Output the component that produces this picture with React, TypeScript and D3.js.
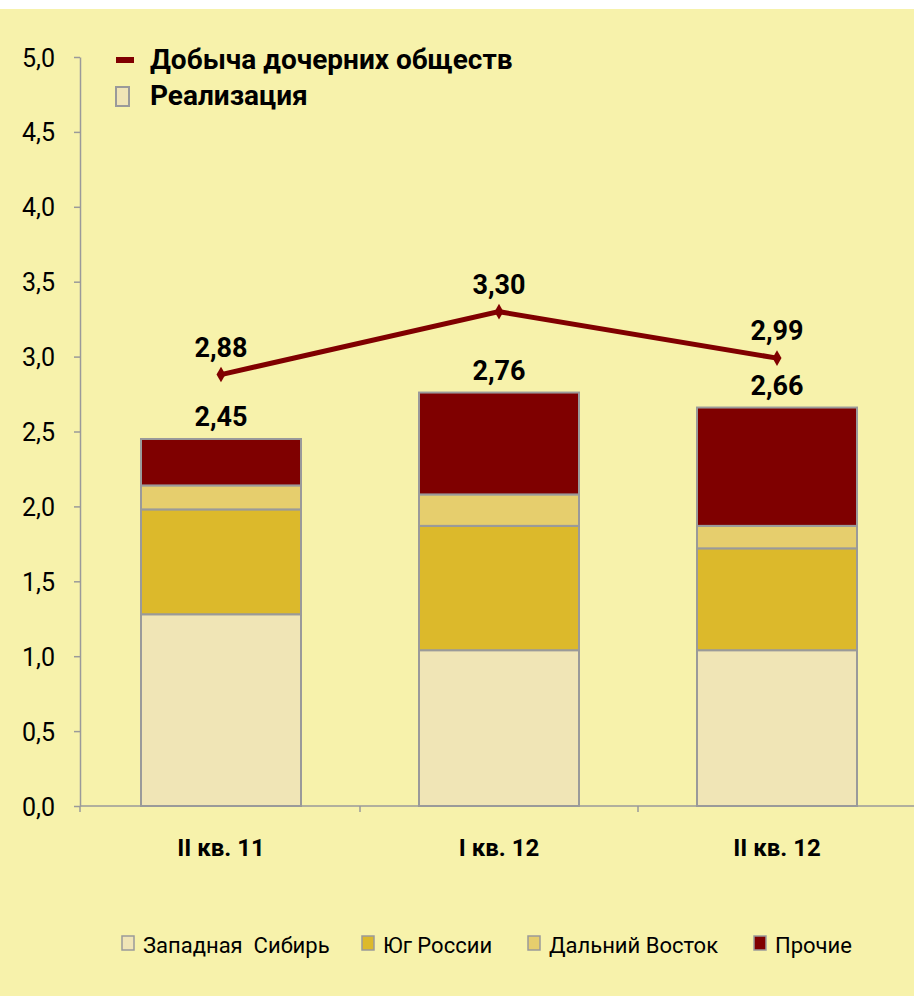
import React, { useEffect, useRef } from "react";
import * as d3 from "d3";

const categories = ["II кв. 11", "I кв. 12", "II кв. 12"];
const seriesNames = ["Западная  Сибирь", "Юг России", "Дальний Восток", "Прочие"];
const seriesColors = ["#F0E5B6", "#DCB92B", "#E6CE6D", "#7F0000"];
const westSiberia = [1.28, 1.04, 1.04];
const southRussia = [0.7, 0.83, 0.68];
const farEast = [0.16, 0.21, 0.15];
const others = [0.31, 0.68, 0.79];
const sales = [2.45, 2.76, 2.66];
const production = [2.88, 3.3, 2.99];
const yTicks = [0, 0.5, 1, 1.5, 2, 2.5, 3, 3.5, 4, 4.5, 5];

const fmt = (v: number, d: number) => v.toFixed(d).replace(".", ",");
const FONT = "Roboto, 'Open Sans', sans-serif";

const App = () => {
  const ref = useRef<SVGSVGElement>(null);

  useEffect(() => {
    const W = 914;
    const H = 996;
    const svg = d3.select(ref.current).attr("width", W).attr("height", H);
    svg.selectAll("*").remove();

    svg.append("rect").attr("width", W).attr("height", H).attr("fill", "#fff");
    svg.append("rect").attr("y", 9).attr("width", W).attr("height", H - 9).attr("fill", "#F7F2AB");

    const left = 80;
    // category bands (the chart runs on past the right edge of the picture)
    const x = d3.scaleBand().domain(categories).range([82, 82 + 278 * 3]);
    const y = d3.scaleLinear().domain([0, 5]).range([806, 57]);
    const barW = 160;

    // y axis
    const yAxis = d3
      .axisLeft(y)
      .tickValues(yTicks)
      .tickSize(6)
      .tickSizeOuter(0)
      .tickPadding(19)
      .tickFormat((d) => fmt(+d, 1));
    const gy = svg.append("g").attr("transform", `translate(${left},0)`).call(yAxis);
    gy.select(".domain").attr("stroke", "#9a9a9a").attr("stroke-width", 1.5);
    gy.selectAll(".tick line").attr("stroke", "#9a9a9a").attr("stroke-width", 1.5);
    gy.selectAll(".tick text")
      .attr("font-family", FONT)
      .attr("font-size", 25)
      .attr("fill", "#000")
      .attr("dy", "0.36em");

    // x axis
    const xAxis = d3.axisBottom(x).tickValues([]).tickSizeOuter(0);
    const gx = svg.append("g").attr("transform", `translate(0,${y(0)})`).call(xAxis);
    gx.select(".domain").attr("stroke", "#9a9a9a").attr("stroke-width", 1.5).attr("d", `M${left},0H${W}`);
    const edges = [left, ...categories.map((c) => (x(c) as number) + x.bandwidth())];
    gx.selectAll("line.sep")
      .data(edges)
      .join("line")
      .attr("class", "sep")
      .attr("x1", (d) => d)
      .attr("x2", (d) => d)
      .attr("y1", 0)
      .attr("y2", 6)
      .attr("stroke", "#9a9a9a")
      .attr("stroke-width", 1.5);
    gx.selectAll("text.cat")
      .data(categories)
      .join("text")
      .attr("class", "cat")
      .attr("x", (d) => (x(d) as number) + x.bandwidth() / 2)
      .attr("y", 50)
      .attr("text-anchor", "middle")
      .attr("font-family", FONT)
      .attr("font-weight", "bold")
      .attr("font-size", 24)
      .attr("fill", "#000")
      .text((d) => d);

    // stacked bars
    const rows = categories.map((c, i) => ({
      cat: c,
      s0: westSiberia[i],
      s1: southRussia[i],
      s2: farEast[i],
      s3: others[i],
    }));
    const stack = d3.stack<any>().keys(["s0", "s1", "s2", "s3"]);
    const layers = stack(rows);
    const cx = (c: string) => (x(c) as number) + x.bandwidth() / 2;

    svg
      .append("g")
      .selectAll("g")
      .data(layers)
      .join("g")
      .attr("fill", (_, i) => seriesColors[i])
      .selectAll("rect")
      .data((d) => d)
      .join("rect")
      .attr("x", (d) => cx(d.data.cat) - barW / 2)
      .attr("width", barW)
      .attr("y", (d) => y(d[1]))
      .attr("height", (d) => y(d[0]) - y(d[1]))
      .attr("stroke", "#9a9a9a")
      .attr("stroke-width", 2);

    // totals
    svg
      .append("g")
      .selectAll("text")
      .data(categories)
      .join("text")
      .attr("x", (d) => cx(d))
      .attr("y", (_, i) => y(sales[i]) - 13)
      .attr("text-anchor", "middle")
      .attr("font-family", FONT)
      .attr("font-weight", "bold")
      .attr("font-size", 27)
      .attr("fill", "#000")
      .text((_, i) => fmt(sales[i], 2));

    // line
    const line = d3
      .line<number>()
      .x((_, i) => cx(categories[i]))
      .y((d) => y(d));
    svg
      .append("path")
      .attr("d", line(production))
      .attr("fill", "none")
      .attr("stroke", "#800000")
      .attr("stroke-width", 5);
    svg
      .append("g")
      .selectAll("path")
      .data(production)
      .join("path")
      .attr("d", d3.symbol(d3.symbolDiamond, 70))
      .attr("transform", (d, i) => `translate(${cx(categories[i])},${y(d)})`)
      .attr("fill", "#800000");
    svg
      .append("g")
      .selectAll("text")
      .data(production)
      .join("text")
      .attr("x", (_, i) => cx(categories[i]))
      .attr("y", (d) => y(d) - 18)
      .attr("text-anchor", "middle")
      .attr("font-family", FONT)
      .attr("font-weight", "bold")
      .attr("font-size", 27)
      .attr("fill", "#000")
      .text((d) => fmt(d, 2));

    // top legend
    const tl = svg.append("g");
    tl.append("rect").attr("x", 116).attr("y", 57).attr("width", 18).attr("height", 6).attr("fill", "#800000");
    tl.append("text")
      .attr("x", 150)
      .attr("y", 69)
      .attr("font-family", FONT)
      .attr("font-weight", "bold")
      .attr("font-size", 28)
      .attr("fill", "#000")
      .text("Добыча дочерних обществ");
    tl.append("rect")
      .attr("x", 116)
      .attr("y", 87)
      .attr("width", 13)
      .attr("height", 19)
      .attr("fill", seriesColors[0])
      .attr("stroke", "#9a9a9a")
      .attr("stroke-width", 2);
    tl.append("text")
      .attr("x", 150)
      .attr("y", 105)
      .attr("font-family", FONT)
      .attr("font-weight", "bold")
      .attr("font-size", 28)
      .attr("fill", "#000")
      .text("Реализация");

    // bottom legend
    const legX = [122, 362, 528, 754];
    const bl = svg
      .append("g")
      .selectAll("g")
      .data(seriesNames)
      .join("g")
      .attr("transform", (_, i) => `translate(${legX[i]},936)`);
    bl.append("rect")
      .attr("width", 12)
      .attr("height", 14)
      .attr("fill", (_, i) => seriesColors[i])
      .attr("stroke", "#9a9a9a")
      .attr("stroke-width", 1.5);
    bl.append("text")
      .attr("x", 21)
      .attr("y", 17)
      .attr("font-family", FONT)
      .attr("font-size", 22)
      .attr("fill", "#000")
      .style("white-space", "pre")
      .text((d) => d);
  }, []);

  return <svg ref={ref} style={{ position: "absolute", left: 0, top: 0 }}></svg>;
};

export default App;
